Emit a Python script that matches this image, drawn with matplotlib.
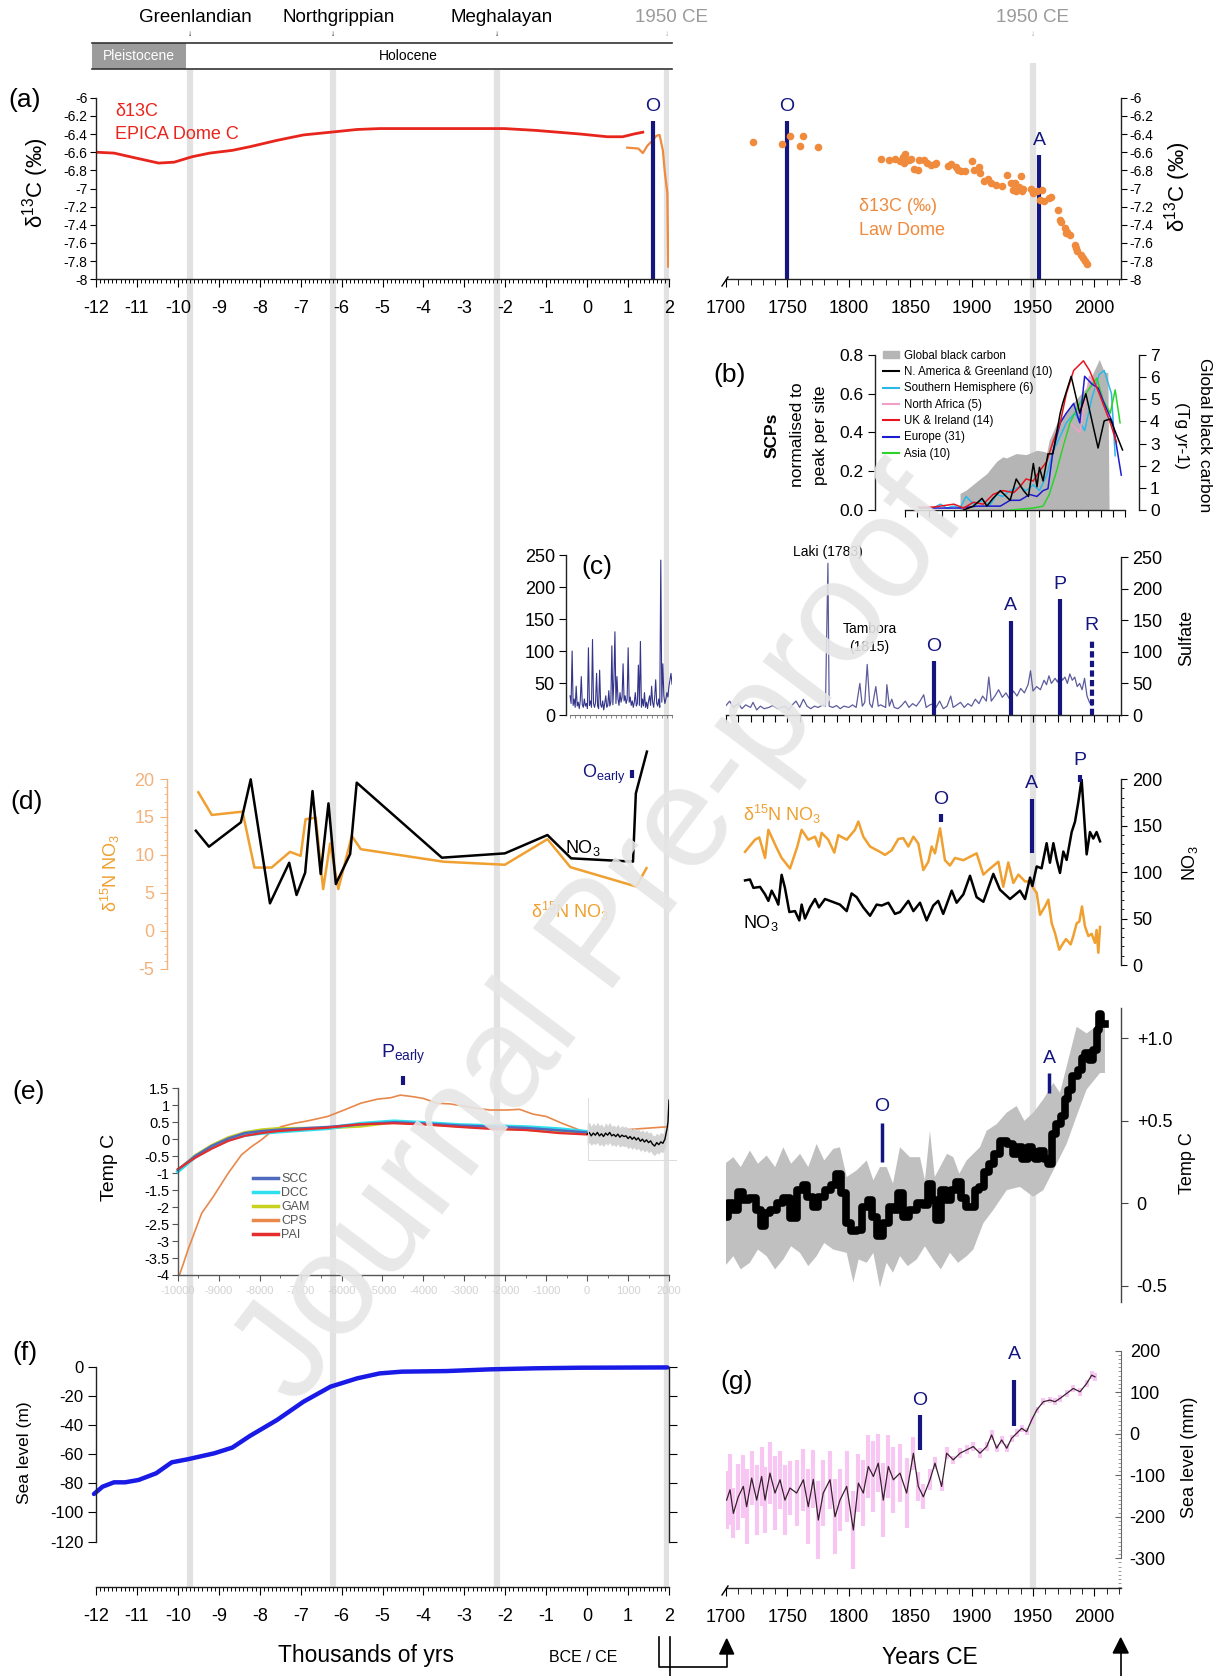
import numpy as np
import matplotlib
matplotlib.use("Agg")
import matplotlib.pyplot as plt
from matplotlib.lines import Line2D
from matplotlib.patches import Patch, Rectangle, Polygon
from matplotlib.ticker import MultipleLocator, FixedLocator, FuncFormatter

plt.rcParams['font.family'] = ['Liberation Sans', 'DejaVu Sans']
plt.rcParams['axes.unicode_minus'] = False
plt.rcParams['mathtext.fontset'] = 'custom'
plt.rcParams['mathtext.rm'] = 'Liberation Sans'
plt.rcParams['mathtext.it'] = 'Liberation Sans:italic'
plt.rcParams['mathtext.bf'] = 'Liberation Sans:bold'

# ---------------------------------------------------------------- data
boundary_names = ['Greenlandian', 'Northgrippian', 'Meghalayan', '1950 CE']
boundary_ka = [-9.7, -6.2, -2.2, 1.95]

# (a) EPICA Dome C d13C (ka, permil)
epica = [(-12.02, -6.60), (-11.56, -6.61), (-11.07, -6.66), (-10.47, -6.72), (-10.09, -6.71),
         (-9.65, -6.65), (-9.22, -6.61), (-8.67, -6.58), (-8.24, -6.54), (-7.58, -6.47),
         (-6.93, -6.41), (-6.27, -6.38), (-5.62, -6.35), (-5.07, -6.34), (-3.44, -6.34),
         (-2.02, -6.34), (-1.26, -6.36), (-0.17, -6.40), (0.49, -6.43), (0.87, -6.43),
         (1.14, -6.40), (1.36, -6.38)]
lawdome_ka = [(0.98, -6.55), (1.25, -6.56), (1.36, -6.61), (1.47, -6.53), (1.60, -6.47),
              (1.69, -6.42), (1.77, -6.41), (1.85, -6.58), (1.90, -6.83), (1.96, -7.05), (1.98, -7.86)]
lawdome_ce = [(1722, -6.49), (1746, -6.51), (1752, -6.42), (1760, -6.53), (1763, -6.42), (1775, -6.54),
              (1826, -6.68), (1833, -6.69), (1838, -6.67), (1842, -6.70), (1844, -6.65), (1846, -6.62),
              (1845, -6.72), (1849, -6.69), (1851, -6.68), (1853, -6.78), (1856, -6.80), (1857, -6.69),
              (1861, -6.69), (1864, -6.72), (1867, -6.74), (1870, -6.73), (1871, -6.72), (1881, -6.75),
              (1883, -6.73), (1887, -6.76), (1889, -6.80), (1891, -6.81), (1895, -6.81), (1900, -6.70),
              (1902, -6.80), (1906, -6.76), (1907, -6.83), (1910, -6.92), (1913, -6.90), (1916, -6.94),
              (1920, -6.96), (1925, -6.97), (1929, -6.85), (1932, -6.94), (1934, -7.02), (1935, -6.94),
              (1936, -7.03), (1939, -6.98), (1940, -6.86), (1941, -7.03), (1942, -7.01), (1948, -7.01),
              (1950, -7.05), (1953, -7.03), (1956, -7.13), (1957, -7.02), (1959, -7.14), (1963, -7.11),
              (1965, -7.09), (1970, -7.24), (1972, -7.35), (1973, -7.37), (1976, -7.44), (1977, -7.49),
              (1978, -7.48), (1980, -7.51), (1984, -7.62), (1985, -7.65), (1986, -7.69), (1989, -7.73),
              (1991, -7.77), (1992, -7.80), (1994, -7.83)]

# (b) SCPs (normalised) and global black carbon (Tg/yr)
bc = [(1895, 0.75), (1900, 0.9), (1909, 1.3), (1917, 1.65), (1925, 2.2), (1930, 2.4), (1933, 2.35),
      (1941, 2.55), (1949, 2.5), (1958, 2.7), (1963, 2.65), (1966, 2.6), (1968, 3.15), (1974, 3.9),
      (1982, 4.45), (1990, 5.0), (1998, 5.5), (2004, 6.2), (2009, 6.8), (2013, 6.25), (2016, 6.2), (2017, 0.0)]
scp_namerica = [(1898, 0.0), (1906, 0.02), (1913, 0.06), (1917, 0.02), (1922, 0.06), (1928, 0.1), (1936, 0.05),
                (1941, 0.16), (1947, 0.1), (1951, 0.07), (1955, 0.24), (1958, 0.12), (1960, 0.22), (1963, 0.15),
                (1967, 0.29), (1971, 0.29), (1977, 0.5), (1979, 0.55), (1986, 0.69), (1993, 0.5), (1998, 0.6),
                (2008, 0.32), (2013, 0.46), (2018, 0.47), (2028, 0.31)]
scp_south = [(1873, 0.01), (1879, 0.03), (1884, 0.01), (1890, 0.02), (1895, 0.01), (1900, 0.07), (1906, 0.03),
             (1914, 0.05), (1919, 0.02), (1925, 0.08), (1930, 0.07), (1936, 0.1), (1944, 0.12), (1949, 0.1),
             (1955, 0.13), (1960, 0.1), (1966, 0.18), (1971, 0.3), (1977, 0.38), (1982, 0.45), (1989, 0.5),
             (1997, 0.41), (2003, 0.58), (2009, 0.7), (2013, 0.72), (2019, 0.6), (2022, 0.28)]
scp_nafrica = [(1977, 0.3), (1985, 0.45), (1993, 0.4), (2001, 0.69), (2009, 0.6)]
scp_uk = [(1861, 0.015), (1873, 0.015), (1890, 0.03), (1898, 0.01), (1906, 0.04), (1914, 0.03), (1922, 0.08),
          (1930, 0.1), (1939, 0.09), (1944, 0.12), (1949, 0.16), (1955, 0.15), (1960, 0.2), (1966, 0.25),
          (1971, 0.35), (1977, 0.45), (1982, 0.6), (1988, 0.72), (1996, 0.77), (2001, 0.72), (2009, 0.6),
          (2018, 0.45), (2023, 0.35)]
scp_europe = [(1862, 0.01), (1895, 0.01), (1909, 0.02), (1928, 0.02), (1936, 0.05), (1944, 0.05), (1952, 0.08),
              (1958, 0.07), (1963, 0.1), (1967, 0.11), (1971, 0.3), (1977, 0.45), (1982, 0.5), (1988, 0.55),
              (1993, 0.45), (1997, 0.69), (2003, 0.65), (2008, 0.63), (2013, 0.55), (2020, 0.45), (2027, 0.18)]
scp_asia = [(1936, 0.0), (1955, 0.01), (1963, 0.02), (1968, 0.08), (1974, 0.2), (1979, 0.32), (1985, 0.45),
            (1993, 0.55), (2000, 0.62), (2007, 0.68), (2012, 0.57), (2018, 0.5), (2022, 0.62), (2026, 0.45)]

# (c) sulfate, long record (CE years, every 20 yr) and last 300 yr
sulf_long_years = np.arange(0, 2001, 20)
sulf_long = [30, 18, 100, 15, 25, 12, 45, 14, 20, 10, 22, 60, 16, 12, 25, 14, 18, 10, 105, 15,
             22, 12, 118, 18, 12, 20, 65, 14, 10, 70, 16, 12, 22, 8, 18, 30, 12, 15, 38, 14,
             20, 108, 16, 55, 130, 18, 60, 25, 15, 35, 20, 28, 80, 22, 30, 18, 25, 105, 20, 28,
             15, 22, 12, 20, 35, 14, 18, 78, 15, 115, 12, 25, 14, 35, 12, 20, 10, 22, 30, 15,
             45, 20, 12, 28, 55, 18, 14, 25, 12, 242, 20, 80, 30, 18, 25, 35, 28, 45, 55, 65, 48]
sulf_recent = [(1700, 15), (1703, 22), (1706, 12), (1710, 18), (1713, 10), (1716, 16), (1720, 12), (1722, 20),
               (1725, 8), (1728, 14), (1731, 10), (1735, 12), (1738, 15), (1742, 10), (1745, 12), (1748, 14),
               (1751, 8), (1754, 16), (1757, 22), (1760, 12), (1763, 25), (1766, 14), (1769, 10), (1772, 14),
               (1775, 12), (1779, 16), (1781, 14), (1783, 240), (1784, 14), (1787, 12), (1790, 15), (1793, 10),
               (1796, 14), (1800, 12), (1803, 16), (1806, 12), (1809, 50), (1811, 14), (1813, 20), (1815, 80),
               (1817, 18), (1819, 12), (1822, 45), (1824, 14), (1826, 16), (1830, 12), (1831, 48), (1833, 14),
               (1835, 25), (1837, 12), (1840, 10), (1843, 15), (1846, 22), (1849, 12), (1852, 18), (1855, 14),
               (1858, 22), (1861, 32), (1863, 12), (1866, 16), (1869, 18), (1871, 12), (1874, 22), (1877, 10),
               (1880, 14), (1883, 30), (1885, 12), (1888, 16), (1891, 20), (1894, 12), (1897, 18), (1900, 14),
               (1903, 25), (1906, 18), (1909, 30), (1912, 22), (1914, 60), (1916, 22), (1919, 30), (1922, 40),
               (1925, 28), (1928, 35), (1931, 25), (1934, 38), (1937, 30), (1940, 42), (1943, 35), (1946, 48),
               (1948, 70), (1950, 38), (1953, 45), (1956, 40), (1959, 55), (1961, 48), (1963, 62), (1965, 50),
               (1968, 58), (1970, 52), (1972, 65), (1974, 55), (1976, 60), (1978, 50), (1980, 65), (1982, 55),
               (1984, 60), (1986, 45), (1988, 50), (1990, 40), (1992, 58), (1994, 30), (1996, 20), (1998, 15)]

# (d) nitrate: d15N (permil) and NO3 (ng/g)
d15n_ka = [(-9.50, 18.25), (-9.17, 15.26), (-8.42, 15.7), (-8.13, 8.33), (-7.71, 8.33), (-7.26, 10.4),
           (-7.00, 9.87), (-6.88, 14.7), (-6.63, 14.9), (-6.45, 5.49), (-6.28, 11.5), (-6.08, 5.49),
           (-5.75, 12.5), (-5.53, 10.75), (-3.51, 9.1), (-2.01, 8.7), (-0.97, 12.07), (-0.41, 8.38),
           (1.20, 5.83), (1.45, 8.25)]
no3_ka = [(-9.56, 142.9), (-9.24, 125.9), (-8.46, 151.8), (-8.22, 197.5), (-7.75, 65.6), (-7.28, 108.8),
          (-7.10, 74.5), (-6.89, 98.2), (-6.71, 185.1), (-6.51, 96.8), (-6.32, 172.0), (-6.14, 86.2),
          (-5.79, 118.1), (-5.63, 194.0), (-3.55, 114.2), (-2.01, 118.8), (-0.97, 138.3), (-0.39, 113.5),
          (1.12, 110.0), (1.19, 182.6), (1.46, 227.0)]
d15n_ce = [(1715.5, 10.4), (1723.6, 12.0), (1727.1, 12.3), (1731.8, 9.6), (1734.5, 13.3), (1740.7, 11.1),
           (1745.3, 9.6), (1752.1, 8.2), (1758.1, 11.1), (1761.6, 13.3), (1767.0, 12.0), (1772.5, 12.4),
           (1775.7, 11.1), (1777.9, 12.9), (1783.3, 12.0), (1788.2, 10.3), (1791.5, 12.6), (1798.3, 12.0),
           (1805.0, 13.3), (1807.8, 14.4), (1811.8, 12.4), (1817.3, 11.1), (1825.4, 10.4), (1829.5, 10.0),
           (1834.9, 10.6), (1840.3, 12.1), (1844.4, 12.2), (1848.5, 11.1), (1852.6, 12.4), (1856.6, 11.5),
           (1860.7, 8.0), (1864.8, 9.1), (1867.5, 11.1), (1870.2, 10.2), (1874.3, 13.5), (1878.3, 9.3),
           (1882.4, 8.6), (1886.5, 9.6), (1893.3, 9.3), (1904.1, 10.2), (1909.6, 7.4), (1913.6, 8.0),
           (1921.8, 9.1), (1925.8, 5.8), (1929.9, 9.0), (1934.0, 6.3), (1938.1, 7.4), (1943.5, 6.5),
           (1947.6, 6.5), (1950.3, 5.6), (1953.0, 5.0), (1955.7, 2.1), (1959.8, 3.2), (1962.5, 4.1),
           (1965.2, 1.0), (1967.9, -0.3), (1971.4, -2.5), (1974.7, -1.6), (1976.9, -1.1), (1980.7, -1.8),
           (1982.8, -0.7), (1985.6, 1.0), (1987.7, 1.2), (1989.9, 3.2), (1992.3, 0.6), (1995.1, -0.7),
           (1997.8, -0.4), (2000.5, -1.6), (2001.8, 0.1), (2003.2, -2.9), (2004.6, 0.5)]
no3_ce = [(1715.5, 91), (1719.5, 92), (1722.3, 83), (1727.7, 84), (1731.8, 76), (1734.5, 69), (1737.2, 80),
          (1740.7, 71), (1742.6, 65), (1745.3, 97), (1748.0, 83), (1751.6, 57), (1756.2, 58), (1759.7, 48),
          (1761.6, 65), (1764.3, 50), (1768.4, 62), (1772.5, 71), (1775.7, 62), (1780.6, 71), (1784.7, 69),
          (1792.8, 65), (1798.3, 58), (1802.3, 77), (1806.4, 73), (1811.8, 62), (1817.3, 53), (1822.7, 65),
          (1826.8, 64), (1832.2, 67), (1837.6, 55), (1841.7, 57), (1848.5, 69), (1852.6, 58), (1858.0, 67),
          (1863.4, 48), (1868.8, 64), (1872.8, 69), (1876.9, 55), (1883.8, 80), (1887.8, 67), (1893.3, 76),
          (1898.7, 96), (1904.1, 73), (1909.6, 68), (1917.7, 98), (1923.1, 81), (1931.3, 71), (1939.4, 80),
          (1943.5, 71), (1947.6, 94), (1949.5, 85), (1953.0, 106), (1957.0, 104), (1961.1, 131), (1963.8, 110),
          (1966.6, 131), (1969.3, 113), (1972.0, 99), (1974.7, 122), (1977.4, 113), (1981.5, 143),
          (1984.2, 154), (1986.9, 175), (1989.6, 200), (1991.0, 172), (1993.7, 119), (1996.4, 143),
          (1999.1, 136), (2001.8, 143), (2004.6, 133)]

# (e) Holocene temperature reconstructions (years CE, deg C)
temp_years = [-10000, -9580, -9175, -8770, -8365, -7960, -7555, -6340, -5530, -4720, -3910, -3100,
              -2290, -1480, -670, 0]
temp_scc = [-0.90, -0.50, -0.20, 0.02, 0.18, 0.24, 0.28, 0.36, 0.44, 0.50, 0.46, 0.40, 0.37, 0.33, 0.26, 0.20]
temp_dcc = [-0.95, -0.52, -0.24, -0.02, 0.12, 0.18, 0.22, 0.32, 0.46, 0.53, 0.48, 0.42, 0.39, 0.36, 0.30, 0.22]
temp_gam = [-0.92, -0.48, -0.18, 0.05, 0.20, 0.28, 0.32, 0.33, 0.38, 0.50, 0.44, 0.38, 0.33, 0.28, 0.20, 0.18]
temp_pai = [-0.88, -0.55, -0.28, -0.05, 0.10, 0.18, 0.24, 0.34, 0.44, 0.47, 0.43, 0.36, 0.30, 0.27, 0.18, 0.14]
temp_cps = [(-9968, -4.03), (-9741, -3.22), (-9417, -2.18), (-9134, -1.69), (-8769, -1.0), (-8446, -0.46),
            (-8203, -0.22), (-7961, -0.02), (-7718, 0.22), (-7475, 0.37), (-7152, 0.47), (-6827, 0.54),
            (-6341, 0.67), (-5938, 0.86), (-5533, 1.06), (-5128, 1.18), (-4805, 1.22), (-4562, 1.30),
            (-4239, 1.25), (-3996, 1.20), (-3672, 1.06), (-3348, 1.04), (-3025, 0.98), (-2700, 0.91),
            (-2377, 0.86), (-1972, 0.86), (-1649, 0.88), (-1325, 0.74), (-1000, 0.67), (-616, 0.47),
            (-182, 0.27), (0, 0.20), (2000, 0.37)]
temp_2k_years = [0, 50, 100, 150, 200, 250, 300, 350, 400, 450, 500, 550, 600, 650, 700, 750, 800, 850, 900,
                 950, 1000, 1050, 1100, 1150, 1200, 1250, 1300, 1350, 1400, 1450, 1500, 1550, 1600, 1650,
                 1700, 1750, 1800, 1850, 1900, 1950, 1975, 2000]
temp_2k = [0.15, 0.20, 0.10, 0.18, 0.12, 0.20, 0.10, 0.16, 0.08, 0.18, 0.12, 0.20, 0.10, 0.14, 0.08, 0.15,
           0.06, 0.12, 0.08, 0.10, 0.02, 0.08, 0.00, 0.06, -0.02, 0.04, -0.06, 0.00, -0.08, -0.02, -0.10,
           -0.05, -0.15, -0.20, -0.10, -0.16, -0.08, -0.12, 0.00, 0.30, 0.50, 1.15]
temp_2k_hi = [0.45, 0.50, 0.38, 0.48, 0.40, 0.50, 0.40, 0.45, 0.35, 0.48, 0.40, 0.50, 0.38, 0.42, 0.36, 0.44,
              0.34, 0.40, 0.36, 0.38, 0.30, 0.36, 0.28, 0.34, 0.26, 0.32, 0.22, 0.28, 0.20, 0.26, 0.18,
              0.22, 0.12, 0.10, 0.18, 0.12, 0.20, 0.16, 0.28, 0.55, 0.75, 1.30]
temp_2k_lo = [-0.15, -0.10, -0.18, -0.12, -0.16, -0.10, -0.20, -0.14, -0.22, -0.12, -0.18, -0.10, -0.20,
              -0.16, -0.22, -0.14, -0.24, -0.18, -0.22, -0.20, -0.28, -0.22, -0.30, -0.24, -0.32, -0.26,
              -0.36, -0.30, -0.38, -0.32, -0.40, -0.35, -0.44, -0.48, -0.40, -0.44, -0.36, -0.40, -0.28,
              0.05, 0.25, 1.00]
temp_ce = [(1699.2, -0.08), (1703.3, 0.00), (1708.7, -0.04), (1711.4, 0.07), (1715.5, 0.02), (1722.3, 0.03),
           (1726.3, -0.04), (1730.4, -0.14), (1733.1, -0.06), (1738.5, -0.04), (1744.0, 0.00), (1749.4, 0.03),
           (1754.8, -0.09), (1760.3, 0.08), (1764.3, 0.11), (1768.4, 0.04), (1772.5, -0.02), (1777.9, 0.04),
           (1783.3, 0.08), (1787.4, 0.11), (1791.5, 0.18), (1795.5, 0.06), (1799.6, -0.12), (1803.7, -0.17),
           (1809.1, -0.16), (1813.2, -0.02), (1817.3, 0.02), (1821.3, -0.08), (1825.4, -0.20), (1830.8, -0.12),
           (1834.9, -0.02), (1839.0, -0.04), (1841.7, 0.06), (1845.8, -0.08), (1852.6, -0.04), (1858.0, 0.00),
           (1863.4, -0.01), (1866.1, 0.12), (1868.8, 0.02), (1872.9, -0.10), (1877.0, 0.08), (1881.0, 0.02),
           (1885.1, 0.08), (1889.2, 0.13), (1893.3, 0.03), (1897.3, -0.02), (1901.4, -0.02), (1904.1, 0.08),
           (1908.2, 0.10), (1912.3, 0.19), (1916.3, 0.24), (1920.4, 0.30), (1925.8, 0.38), (1931.3, 0.36),
           (1936.7, 0.30), (1939.4, 0.34), (1943.5, 0.27), (1947.6, 0.34), (1950.3, 0.31), (1953.0, 0.27),
           (1957.1, 0.32), (1961.1, 0.27), (1963.8, 0.24), (1966.6, 0.42), (1970.6, 0.48), (1974.7, 0.53),
           (1977.4, 0.63), (1980.1, 0.69), (1984.2, 0.77), (1988.3, 0.81), (1991.0, 0.88), (1993.7, 0.91),
           (1997.8, 0.87), (2000.5, 0.93), (2003.2, 1.05), (2004.6, 1.15), (2005.9, 1.09), (2008.6, 1.09)]
temp_ce_upper = [(1699.2, 0.24), (1706.0, 0.28), (1712.0, 0.22), (1719.5, 0.32), (1726.0, 0.24), (1733.1, 0.29),
                 (1740.0, 0.22), (1746.7, 0.34), (1753.0, 0.24), (1760.3, 0.30), (1767.0, 0.22), (1773.8, 0.36),
                 (1780.0, 0.26), (1787.4, 0.33), (1792.8, 0.34), (1798.3, 0.16), (1806.4, 0.20), (1814.6, 0.26),
                 (1820.0, 0.14), (1825.4, 0.22), (1830.8, 0.22), (1836.0, 0.12), (1841.7, 0.34), (1849.8, 0.28),
                 (1858.0, 0.28), (1862.0, 0.14), (1866.1, 0.44), (1870.0, 0.16), (1874.3, 0.22), (1880.0, 0.30),
                 (1885.1, 0.28), (1890.0, 0.18), (1896.0, 0.26), (1906.8, 0.34), (1912.3, 0.44), (1920.4, 0.48),
                 (1928.6, 0.55), (1936.7, 0.59), (1943.0, 0.50), (1950.3, 0.55), (1958.4, 0.63), (1966.6, 0.73),
                 (1972.0, 0.67), (1977.4, 0.83), (1985.6, 1.07), (1993.7, 1.03), (2004.6, 1.09), (2008.6, 1.09)]
temp_ce_lower = [(1699.2, -0.38), (1706.0, -0.32), (1712.0, -0.40), (1719.5, -0.36), (1726.0, -0.28),
                 (1733.1, -0.32), (1740.0, -0.40), (1746.7, -0.34), (1753.0, -0.26), (1760.3, -0.30),
                 (1767.0, -0.38), (1773.8, -0.32), (1780.0, -0.24), (1787.4, -0.28), (1798.3, -0.30),
                 (1803.7, -0.48), (1808.0, -0.34), (1814.6, -0.36), (1820.0, -0.30), (1825.4, -0.51),
                 (1830.8, -0.36), (1836.0, -0.42), (1841.7, -0.32), (1848.0, -0.38), (1855.3, -0.34),
                 (1862.0, -0.26), (1868.8, -0.34), (1875.0, -0.40), (1882.4, -0.30), (1889.0, -0.36),
                 (1896.0, -0.32), (1901.4, -0.28), (1909.6, -0.12), (1917.7, -0.04), (1928.6, 0.08),
                 (1939.4, 0.10), (1950.3, 0.04), (1958.4, 0.08), (1966.6, 0.20), (1972.0, 0.28), (1977.4, 0.36),
                 (1985.6, 0.53), (1993.7, 0.69), (2004.6, 0.79), (2008.6, 0.79)]

# (f) sea level (ka, m)
sealevel_ka = [(-12.05, -87.3), (-11.84, -82.3), (-11.56, -79.3), (-11.29, -79.3), (-10.96, -77.7),
               (-10.53, -73.1), (-10.15, -65.6), (-9.76, -63.5), (-9.11, -59.4), (-8.67, -55.5),
               (-8.24, -47.5), (-7.58, -36.6), (-6.93, -24.0), (-6.27, -13.7), (-5.62, -8.0), (-5.07, -4.6),
               (-4.53, -3.4), (-3.44, -3.0), (-2.35, -1.8), (-1.26, -1.1), (-0.17, -0.7), (1.96, -0.5)]

# (g) sea level (years CE, mm) with uncertainty
sl_years = [1700.5, 1703.3, 1706, 1710, 1714.1, 1716.8, 1720.9, 1725, 1729, 1731.8, 1735.8, 1739.9, 1744,
            1748, 1752.1, 1757.5, 1763, 1767, 1771.1, 1775.2, 1779.2, 1784.7, 1788.8, 1792.8, 1798.3, 1803.7,
            1807.8, 1811.8, 1815.9, 1820, 1824, 1828.1, 1832.2, 1836.3, 1841.7, 1847.1, 1852.6, 1856.6,
            1860.7, 1866.1, 1870.2, 1875.6, 1879.7, 1885.1, 1890.6, 1896, 1901.4, 1906.8, 1912.3, 1916.3,
            1920.4, 1924.5, 1928.6, 1932.6, 1936.7, 1940.8, 1944.8, 1948.9, 1953, 1958.4, 1963.8, 1967.9,
            1972, 1977.4, 1982.8, 1988.3, 1993.7, 1997.8, 2000.5]
sl_mm = [-160, -135, -192, -152, -127, -176, -107, -160, -103, -160,
         -95, -143, -111, -160, -131, -143, -111, -176, -110, -208,
         -143, -111, -200, -160, -127, -232, -119, -143, -79, -103,
         -71, -160, -79, -111, -95, -143, -47, -127, -152, -111,
         -71, -127, -47, -63, -47, -39, -31, -47, -31, -3,
         -35, -15, -35, -11, 1, 13, 5, 33, 57, 77,
         81, 77, 85, 97, 109, 101, 121, 141, 137]
sl_err = [70, 85, 60, 80, 75, 90, 65, 85, 70, 80, 75, 90, 70, 85, 65, 80, 75, 90, 70, 95,
          80, 70, 90, 75, 85, 95, 70, 80, 75, 85, 70, 90, 75, 80, 70, 85,
          40, 35, 30, 25,
          15, 12, 14, 10, 12, 11, 10, 12, 10, 11, 10, 9, 10, 9, 10, 9, 8, 9, 8, 9, 8, 9, 8, 9, 8, 9, 8, 10, 10]

# ---------------------------------------------------------------- layout
W, H = 1221, 1676
NAVY = '#151580'
ORANGE_A = '#f08a3c'
ORANGE_D = '#f0a030'
ORANGE_AX = '#f2b27c'

fig = plt.figure(figsize=(W / 100, H / 100), dpi=100)
fig.patch.set_facecolor('white')


def add_ax(x0, y0, x1, y1, z=0):
    ax = fig.add_axes([x0 / W, 1 - y1 / H, (x1 - x0) / W, (y1 - y0) / H], zorder=z)
    ax.patch.set_visible(False)
    for s in ax.spines.values():
        s.set_visible(False)
    ax.tick_params(which='both', left=False, right=False, top=False, bottom=False,
                   labelleft=False, labelright=False, labeltop=False, labelbottom=False)
    return ax


def spine(ax, side, bounds=None, color='#222222', lw=1.0, pos=None):
    sp = ax.spines[side]
    sp.set_visible(True)
    sp.set_color(color)
    sp.set_linewidth(lw)
    if bounds is not None:
        sp.set_bounds(*bounds)
    if pos is not None:
        sp.set_position(pos)


gfmt = FuncFormatter(lambda v, p: f'{round(v, 2):g}')
LX0, LX1 = 96, 669
RX0, RX1 = 726, 1121.4
RLIM = (1700, 2022)


def unz(pairs):
    a, b = zip(*pairs)
    return np.array(a), np.array(b)


# background: boundary lines
bgL = fig.add_axes([LX0 / W, 0, (LX1 - LX0) / W, 1], zorder=-5)
bgL.set_xlim(-12, 2); bgL.set_ylim(H, 0); bgL.axis('off')
bgL.vlines(boundary_ka, 70, 1587, color='#e2e2e2', lw=4.5)
for nm, x in zip(boundary_names, boundary_ka):
    col = '#9a9a9a' if '1950' in nm else 'black'
    bgL.text(x + 0.12, 17, nm, ha='center', va='center', fontsize=13.5, color=col)
    bgL.text(x, 34, '↓', ha='center', va='center', fontsize=6, color=col)
bgR = fig.add_axes([RX0 / W, 0, (RX1 - RX0) / W, 1], zorder=-5)
bgR.set_xlim(*RLIM); bgR.set_ylim(H, 0); bgR.axis('off')
bgR.vlines([1950], 63, 1588, color='#e2e2e2', lw=4.5)
bgR.text(1950, 18, '1950 CE', ha='center', va='center', fontsize=13.5, color='#9a9a9a')
bgR.text(1950, 34, '↓', ha='center', va='center', fontsize=6, color='#9a9a9a')

# ------------------------------------------------ (a) left
axA = add_ax(LX0, 97.7, LX1, 279.3)
axA.set_xlim(-12, 2); axA.set_ylim(-8, -6)
spine(axA, 'left'); spine(axA, 'bottom')
axA.set_yticks(np.round(np.arange(-8, -5.99, 0.2), 1))
axA.yaxis.set_major_formatter(gfmt)
axA.tick_params(axis='y', left=True, labelleft=True, direction='out', length=4, labelsize=10, pad=2)
axA.set_xticks(range(-12, 3))
axA.xaxis.set_minor_locator(MultipleLocator(0.1))
axA.tick_params(axis='x', which='major', bottom=True, labelbottom=True, direction='out', length=6,
                labelsize=13, pad=9)
axA.tick_params(axis='x', which='minor', bottom=True, direction='out', length=3, width=0.7)
x, y = unz(epica)
axA.plot(x, y, color='#e8251c', lw=2.0)
x, y = unz(lawdome_ka)
axA.plot(x, y, color=ORANGE_A, lw=1.6)
axA.plot([1.60, 1.60], [-8, -6.26], color=NAVY, lw=3, solid_capstyle='butt')
axA.text(1.60, -6.1, 'O', color=NAVY, fontsize=14, ha='center', va='center')
axA.text(-11.53, -6.15, 'δ13C', color='#e8251c', fontsize=13, ha='left', va='center')
axA.text(-11.53, -6.41, 'EPICA Dome C', color='#e8251c', fontsize=13, ha='left', va='center')

# ------------------------------------------------ (a) right
axA2 = add_ax(RX0, 97.7, RX1, 279.3)
axA2.set_xlim(*RLIM); axA2.set_ylim(-8, -6)
spine(axA2, 'right'); spine(axA2, 'bottom')
axA2.set_yticks(np.round(np.arange(-8, -5.99, 0.2), 1))
axA2.yaxis.set_major_formatter(gfmt)
axA2.tick_params(axis='y', right=True, labelright=True, direction='out', length=4, labelsize=10, pad=2)
axA2.set_xticks(range(1700, 2001, 50))
axA2.xaxis.set_minor_locator(MultipleLocator(10))
axA2.tick_params(axis='x', which='major', bottom=True, labelbottom=True, direction='out', length=6,
                 labelsize=13, pad=9)
axA2.tick_params(axis='x', which='minor', bottom=True, direction='out', length=4)
x, y = unz(lawdome_ce)
axA2.scatter(x, y, s=30, color=ORANGE_A, lw=0, zorder=3)
axA2.plot([1749.4, 1749.4], [-8, -6.26], color=NAVY, lw=3, solid_capstyle='butt')
axA2.text(1749.4, -6.1, 'O', color=NAVY, fontsize=14, ha='center', va='center')
axA2.plot([1955, 1955], [-8, -6.63], color=NAVY, lw=3, solid_capstyle='butt')
axA2.text(1955, -6.47, 'A', color=NAVY, fontsize=14, ha='center', va='center')
axA2.text(1808.6, -7.2, 'δ13C (‰)', color=ORANGE_A, fontsize=13, ha='left', va='center')
axA2.text(1808.6, -7.46, 'Law Dome', color=ORANGE_A, fontsize=13, ha='left', va='center')

# ------------------------------------------------ (b)
BX = (1825.4, 2041.5)
axBC = add_ax(875, 355, 1139, 510)
axBC.set_xlim(*BX); axBC.set_ylim(0, 7)
spine(axBC, 'right', bounds=(0, 7)); spine(axBC, 'bottom', bounds=(1850, 2030))
axBC.set_yticks(range(0, 8))
axBC.tick_params(axis='y', right=True, labelright=True, direction='out', length=5, labelsize=12.5, pad=3)
axBC.set_xticks(range(1850, 2031, 10))
axBC.tick_params(axis='x', bottom=True, direction='out', length=5)
x, y = unz(bc)
axBC.fill_between(x, 0, y, color='#b5b5b5', lw=0)

axS = add_ax(875, 355, 1139, 510, z=1)
axS.set_xlim(*BX); axS.set_ylim(0, 0.8)
spine(axS, 'left', bounds=(0, 0.8))
axS.set_yticks([0, 0.2, 0.4, 0.6, 0.8])
axS.yaxis.set_major_formatter(FuncFormatter(lambda v, p: f'{v:.1f}'))
axS.tick_params(axis='y', left=True, labelleft=True, direction='out', length=5, labelsize=12.5, pad=3)
scp_series = [(scp_south, '#2ab8e8'), (scp_nafrica, '#f2a0c8'), (scp_asia, '#2bd42b'),
              (scp_europe, '#1c1cd0'), (scp_uk, '#e8141e'), (scp_namerica, 'black')]
for data, col in scp_series:
    x, y = unz(data)
    axS.plot(x, y, color=col, lw=1.1)
handles = [Patch(color='#b5b5b5'), Line2D([], [], color='black'), Line2D([], [], color='#2ab8e8'),
           Line2D([], [], color='#f2a0c8'), Line2D([], [], color='#e8141e'), Line2D([], [], color='#1c1cd0'),
           Line2D([], [], color='#2bd42b')]
labels = ['Global black carbon', 'N. America & Greenland (10)', 'Southern Hemisphere (6)',
          'North Africa (5)', 'UK & Ireland (14)', 'Europe (31)', 'Asia (10)']
axS.legend(handles, labels, loc='upper left', bbox_to_anchor=(0.03, 1.035), frameon=False,
           fontsize=8.3, handlelength=1.4, handleheight=0.5, handletextpad=0.45, labelspacing=0.38,
           borderpad=0, borderaxespad=0)

# ------------------------------------------------ (c) left
axCL = add_ax(566, 555, 672, 715)
axCL.set_xlim(-80, 2000); axCL.set_ylim(0, 250)
spine(axCL, 'left'); spine(axCL, 'bottom', bounds=(0, 2000), color='#777777', lw=0.8)
axCL.set_yticks(range(0, 251, 50))
axCL.tick_params(axis='y', left=True, labelleft=True, direction='out', length=5, labelsize=13, pad=3)
axCL.xaxis.set_major_locator(MultipleLocator(100))
axCL.tick_params(axis='x', bottom=True, direction='out', length=2, width=0.6, color='#777777')
axCL.plot(sulf_long_years, sulf_long, color='#34348a', lw=0.8)

# ------------------------------------------------ (c) right
axC = add_ax(RX0, 557, RX1, 715)
axC.set_xlim(*RLIM); axC.set_ylim(0, 250)
spine(axC, 'right'); spine(axC, 'bottom')
axC.set_yticks(range(0, 251, 50))
axC.tick_params(axis='y', right=True, labelright=True, direction='out', length=5, labelsize=13, pad=3)
axC.xaxis.set_major_locator(MultipleLocator(10))
axC.tick_params(axis='x', bottom=True, direction='out', length=5)
x, y = unz(sulf_recent)
axC.plot(x, y, color='#5c5c9c', lw=0.9)
for yr, top, lab, ly, ls in [(1869, 86, 'O', 108, '-'), (1932, 148, 'A', 174, '-'),
                             (1972, 183, 'P', 206, '-'), (1998, 117, 'R', 142, (0, (1.5, 0.8)))]:
    axC.plot([yr, yr], [0, top], color=NAVY, lw=3, ls=ls, solid_capstyle='butt')
    axC.text(yr, ly, lab, color=NAVY, fontsize=14, ha='center', va='center')
axC.text(1783, 258, 'Laki (1783)', fontsize=10, ha='center', va='center', clip_on=False)
axC.text(1817, 122, 'Tambora\n(1815)', fontsize=10, ha='center', va='center', linespacing=1.3)

# ------------------------------------------------ (d) left
axDo = add_ax(LX0, 779, LX1, 968.7)
axDo.set_xlim(-12, 2); axDo.set_ylim(-5, 20)
spine(axDo, 'left', color=ORANGE_AX, pos=('data', -10.27))
axDo.set_yticks(range(-5, 21, 5))
axDo.yaxis.set_minor_locator(MultipleLocator(1))
axDo.tick_params(axis='y', which='major', left=True, labelleft=True, direction='out', length=5,
                 labelsize=13, color=ORANGE_AX, labelcolor=ORANGE_AX, pad=4)
axDo.tick_params(axis='y', which='minor', left=True, direction='out', length=2, color=ORANGE_AX)
x, y = unz(d15n_ka)
axDo.plot(x, y, color=ORANGE_D, lw=1.8)
axDo.text(-1.37, 2.6, 'δ$^{15}$N NO$_3$', color=ORANGE_D, fontsize=13, ha='left', va='center')
axDo.plot([1.09, 1.09], [20.1, 21.2], color=NAVY, lw=3, clip_on=False, solid_capstyle='butt')
axDo.text(0.93, 20.6, 'O$_{\\mathrm{early}}$', color=NAVY, fontsize=13, ha='right', va='center')

axDn = add_ax(LX0, 779, LX1, 968.7, z=1)
axDn.set_xlim(-12, 2); axDn.set_ylim(-3.9, 197.9)
x, y = unz(no3_ka)
axDn.plot(x, y, color='black', lw=1.8, clip_on=False)
axDn.text(-0.11, 124, 'NO$_3$', color='black', fontsize=13, ha='center', va='center')

# ------------------------------------------------ (d) right
axDRo = add_ax(RX0, 779, RX1, 968.7)
axDRo.set_xlim(*RLIM); axDRo.set_ylim(-5, 20)
x, y = unz(d15n_ce)
axDRo.plot(x, y, color=ORANGE_D, lw=1.8)

axDR = add_ax(RX0, 779, RX1, 968.7, z=1)
axDR.set_xlim(*RLIM); axDR.set_ylim(-3.9, 197.9)
spine(axDR, 'right', bounds=(0, 200))
axDR.set_yticks(range(0, 201, 50))
axDR.yaxis.set_minor_locator(MultipleLocator(10))
axDR.tick_params(axis='y', which='major', right=True, labelright=True, direction='out', length=4,
                 labelsize=13, pad=4)
axDR.tick_params(axis='y', which='minor', right=True, direction='out', length=2)
x, y = unz(no3_ce)
axDR.plot(x, y, color='black', lw=1.8)
axDR.text(1713.8, 161.7, 'δ$^{15}$N NO$_3$', color=ORANGE_D, fontsize=13, ha='left', va='center')
axDR.text(1713.8, 45.7, 'NO$_3$', color='black', fontsize=13, ha='left', va='center')
for yr, b0, b1, lab, ly in [(1874.8, 154, 162, 'O', 178), (1948.9, 120.5, 179, 'A', 195),
                            (1988.3, 197, 204, 'P', 220)]:
    axDR.plot([yr, yr], [b0, b1], color=NAVY, lw=3, clip_on=False, solid_capstyle='butt')
    axDR.text(yr, ly, lab, color=NAVY, fontsize=14, ha='center', va='center', clip_on=False)

# ------------------------------------------------ (e) left
axE = add_ax(LX0, 1088.3, LX1, 1275)
axE.set_xlim(-12000, 2000); axE.set_ylim(-4, 1.5)
spine(axE, 'left', bounds=(-4, 1.5), color='#555555', pos=('data', -10000))
spine(axE, 'bottom', bounds=(-10000, 2000), color='#555555')
axE.set_yticks(np.round(np.arange(-4, 1.51, 0.5), 1))
axE.yaxis.set_major_formatter(gfmt)
axE.tick_params(axis='y', left=True, labelleft=True, direction='out', length=4, labelsize=10.5,
                color='#555555', pad=2)
axE.set_xticks(range(-10000, 2001, 1000))
axE.xaxis.set_minor_locator(FixedLocator(list(range(-9500, 2000, 1000))))
axE.tick_params(axis='x', which='major', bottom=True, labelbottom=True, direction='out', length=4,
                labelsize=8, labelcolor='#d2d2d2', color='#555555', pad=4)
axE.tick_params(axis='x', which='minor', bottom=True, direction='out', length=2, color='#555555')
x, y = unz(temp_cps)
axE.plot(x, y, color='#e8884a', lw=1.2)
axE.plot(temp_years, temp_gam, color='#c8d21e', lw=2.0)
axE.plot(temp_years, temp_dcc, color='#2ee0ee', lw=2.6)
axE.plot(temp_years, temp_scc, color='#4f6bbd', lw=1.8)
axE.plot(temp_years, temp_pai, color='#e52d2d', lw=1.6)
axE.fill_between(temp_2k_years, temp_2k_lo, temp_2k_hi, color='#d4d4d4', lw=0, zorder=3)
axE.plot(temp_2k_years, temp_2k, color='black', lw=1.0, zorder=4)
axE.plot([-4500, -4500], [1.60, 1.86], color=NAVY, lw=3, clip_on=False, solid_capstyle='butt')
axE.text(-4500, 2.5, 'P$_{\\mathrm{early}}$', color=NAVY, fontsize=14, ha='center', va='center')
eh = [Line2D([], [], color=c, lw=2.5) for c in ['#4f6bbd', '#2ee0ee', '#c8d21e', '#e8884a', '#e52d2d']]
axE.legend(eh, ['SCC', 'DCC', 'GAM', 'CPS', 'PAI'], loc='upper left', bbox_to_anchor=(0.274, 0.545),
           frameon=False, fontsize=9, handlelength=2.0, handletextpad=0.25, labelspacing=0.16,
           borderpad=0, borderaxespad=0, labelcolor='#555555')
axEi = add_ax(588, 1098, 676, 1160, z=1)
spine(axEi, 'left', color='#dcdcdc', lw=0.7); spine(axEi, 'bottom', color='#dcdcdc', lw=0.7)

# ------------------------------------------------ (e) right
axER = add_ax(RX0, 1008, RX1, 1301.7)
axER.set_xlim(*RLIM); axER.set_ylim(-0.596, 1.184)
spine(axER, 'right', color='#444444')
axER.set_yticks([-0.5, 0, 0.5, 1.0])
axER.set_yticklabels(['-0.5', '0', '+0.5', '+1.0'])
axER.tick_params(axis='y', right=True, labelright=True, direction='out', length=5, labelsize=13,
                 color='#444444', pad=6)
xu, yu = unz(temp_ce_upper)
xl, yl = unz(temp_ce_lower)
axER.fill(np.concatenate([xu, xl[::-1]]), np.concatenate([yu, yl[::-1]]), color='#c0c0c0', lw=0)
x, y = unz(temp_ce)
axER.step(x, y, where='mid', color='black', lw=5.5)
axER.plot([1826.8, 1826.8], [0.252, 0.487], color=NAVY, lw=2.5, solid_capstyle='butt')
axER.text(1826.8, 0.585, 'O', color=NAVY, fontsize=14, ha='center', va='center')
axER.plot([1963.3, 1963.3], [0.668, 0.79], color=NAVY, lw=2.5, solid_capstyle='butt')
axER.text(1963.3, 0.88, 'A', color=NAVY, fontsize=14, ha='center', va='center')

# ------------------------------------------------ (f)
axF = add_ax(LX0, 1366.7, LX1, 1586.7)
axF.set_xlim(-12, 2); axF.set_ylim(-150.9, 0)
spine(axF, 'left', bounds=(-120, 0)); spine(axF, 'right', bounds=(-120, 0)); spine(axF, 'bottom')
axF.set_yticks(range(-120, 1, 20))
axF.tick_params(axis='y', left=True, right=True, labelleft=True, direction='out', length=6,
                labelsize=12, pad=3)
axF.set_xticks(range(-12, 3))
axF.xaxis.set_minor_locator(MultipleLocator(0.1))
axF.tick_params(axis='x', which='major', bottom=True, labelbottom=True, direction='out', length=6,
                labelsize=13, pad=9)
axF.tick_params(axis='x', which='minor', bottom=True, direction='out', length=3, width=0.7)
x, y = unz(sealevel_ka)
axF.plot(x, y, color='#1a1ae6', lw=3.2, clip_on=False, solid_capstyle='round')

# ------------------------------------------------ (g)
axG = add_ax(RX0, 1350.7, RX1, 1588.3)
axG.set_xlim(*RLIM); axG.set_ylim(-372.5, 200)
spine(axG, 'right', bounds=(-300, 200), color='#666666', lw=0.8); spine(axG, 'bottom')
axG.set_yticks(range(-300, 201, 100))
axG.yaxis.set_minor_locator(MultipleLocator(10))
axG.tick_params(axis='y', which='major', right=True, labelright=True, direction='in', length=4,
                labelsize=13, pad=6, color='#666666')
axG.tick_params(axis='y', which='minor', right=True, direction='in', length=2, width=0.6, color='#888888')
axG.set_xticks(range(1700, 2001, 50))
axG.xaxis.set_minor_locator(MultipleLocator(10))
axG.tick_params(axis='x', which='major', bottom=True, labelbottom=True, direction='out', length=6,
                labelsize=13, pad=9)
axG.tick_params(axis='x', which='minor', bottom=True, direction='out', length=4)
axG.errorbar(sl_years, sl_mm, yerr=sl_err, fmt='none', ecolor='#f7c6f3', elinewidth=3.0, capsize=0)
axG.plot(sl_years, sl_mm, color='#3a1f2e', lw=0.9)
axG.plot([1858, 1858], [-39, 45], color=NAVY, lw=3, solid_capstyle='butt')
axG.text(1858, 81, 'O', color=NAVY, fontsize=14, ha='center', va='center')
axG.plot([1934.5, 1934.5], [19, 129], color=NAVY, lw=3, solid_capstyle='butt')
axG.text(1934.5, 190, 'A', color=NAVY, fontsize=14, ha='center', va='center')

# ------------------------------------------------ overlay: labels, bars, arrows
ov = fig.add_axes([0, 0, 1, 1], zorder=20)
ov.set_xlim(0, W); ov.set_ylim(H, 0); ov.axis('off')
ov.add_patch(Rectangle((91.5, 43.3), 186 - 91.5, 26, color='#9c9c9c', lw=0))
ov.plot([91.5, 672], [43.3, 43.3], color='#333333', lw=1.2)
ov.plot([91.5, 672], [69.3, 69.3], color='#333333', lw=1.2)
ov.text(138.7, 56.3, 'Pleistocene', color='white', fontsize=10, ha='center', va='center')
ov.text(408, 56.3, 'Holocene', color='black', fontsize=10, ha='center', va='center')

for lab, xx, yy in [('(a)', 25, 100), ('(b)', 730, 375), ('(c)', 597, 567), ('(d)', 27, 802),
                    ('(e)', 29, 1092), ('(f)', 25, 1353), ('(g)', 737, 1382)]:
    ov.text(xx, yy, lab, fontsize=19, ha='center', va='center')

ylabs = [('δ$^{13}$C (‰)', 36, 183, 90, 16, 'black', 'normal'),
         ('δ$^{13}$C (‰)', 1178, 187, 90, 16, 'black', 'normal'),
         ('SCPs', 772, 435, 90, 12.5, 'black', 'bold'),
         ('normalised to', 798, 435, 90, 12.5, 'black', 'normal'),
         ('peak per site', 821, 435, 90, 12.5, 'black', 'normal'),
         ('Global black carbon', 1205, 435, 270, 12.5, 'black', 'normal'),
         ('(Tg yr-1)', 1182, 435, 270, 12.5, 'black', 'normal'),
         ('Sulfate', 1187, 638, 90, 13, 'black', 'normal'),
         ('δ$^{15}$N NO$_3$', 110, 873, 90, 13, ORANGE_D, 'normal'),
         ('NO$_3$', 1190, 863, 90, 13, 'black', 'normal'),
         ('Temp C', 110, 1167, 90, 14, 'black', 'normal'),
         ('Temp C', 1187, 1163, 90, 13, 'black', 'normal'),
         ('Sea level (m)', 25, 1453, 90, 12.5, 'black', 'normal'),
         ('Sea level (mm)', 1190, 1457, 90, 13, 'black', 'normal')]
for t, xx, yy, rot, fs, col, fw in ylabs:
    ov.text(xx, yy, t, rotation=rot, fontsize=fs, color=col, fontweight=fw, ha='center', va='center')

ov.text(366, 1655, 'Thousands of yrs', fontsize=16.5, ha='center', va='center')
ov.text(583, 1657, 'BCE / CE', fontsize=11.5, ha='center', va='center')
ov.text(930, 1657, 'Years CE', fontsize=16.5, ha='center', va='center')

ov.plot([658.5, 658.5, 726.7, 726.7], [1637, 1667, 1667, 1652], color='black', lw=1.2)
ov.add_patch(Polygon([(719.7, 1654), (733.7, 1654), (726.7, 1639)], color='black'))
ov.plot([669.6, 669.6], [1637, 1676], color='black', lw=1.2)
ov.plot([1120.7, 1120.7], [1676, 1652], color='black', lw=1.2)
ov.add_patch(Polygon([(1113.2, 1653), (1128.2, 1653), (1120.7, 1638)], color='black'))
ov.plot([722, 728], [286, 277], color='black', lw=1)
ov.plot([722, 728], [1595, 1586], color='black', lw=1)

# watermark
ov.text(603, 940, 'Journal Pre-proof', rotation=53, fontsize=104, color='#e6e6e6', alpha=0.9,
        ha='center', va='center', rotation_mode='anchor')

fig.savefig('out.png', dpi=100)
